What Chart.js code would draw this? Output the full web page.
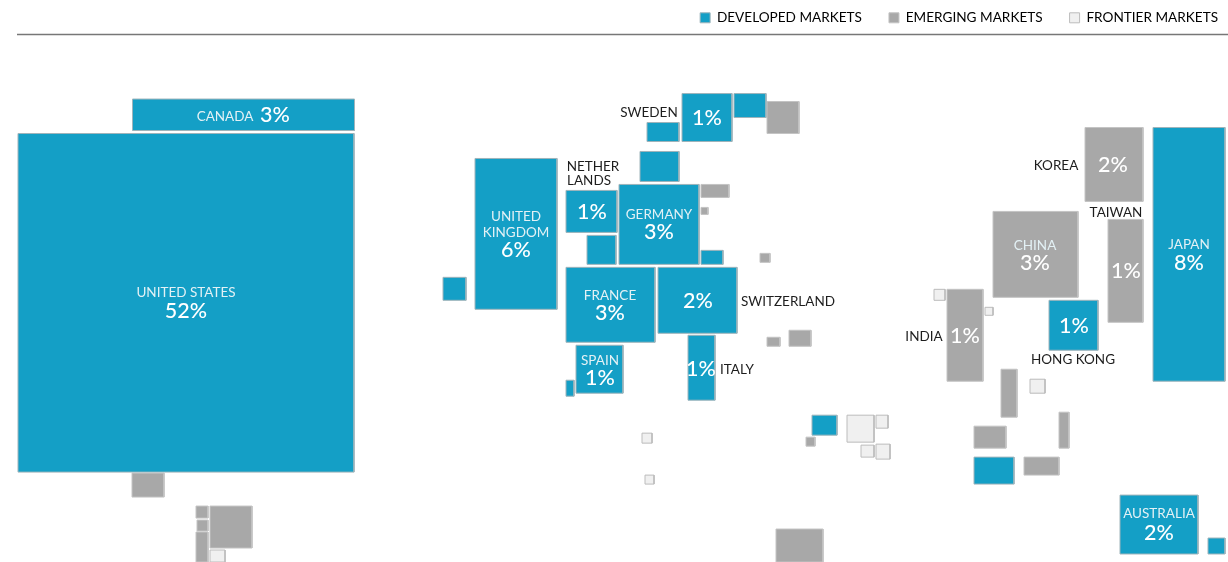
<!DOCTYPE html>
<html>
<head>
<meta charset="utf-8">
<title>Market cap map</title>
<script src="https://cdn.jsdelivr.net/npm/chart.js@4/dist/chart.umd.min.js"></script>
<style>
  html, body { margin: 0; padding: 0; background: #fff; }
  canvas { display: block; }
</style>
</head>
<body>
<canvas id="mapChart" width="1228" height="562"></canvas>
<script>
// market groups
const marketNames = ["DEVELOPED MARKETS", "EMERGING MARKETS", "FRONTIER MARKETS"];
const marketFill = ["#149fc6", "#a8a8a8", "#f0f0f0"];
const marketBorder = ["#9fb4bb", "#c4c4c4", "#bcbcbc"];

// boxes on the map: 0 developed, 1 emerging, 2 frontier
const boxMarket = [
  0, 0, 0, 0, 0, 1, 0, 0, 0, 0, 1, 1, 0, 0, 1, 0, 0, 0, 0, 0, 0,
  1, 1, 2, 2, 0, 1, 2, 2, 2, 2, 1,
  1, 1, 1, 1, 1, 2,
  1, 0, 1, 1, 2, 1, 2, 0, 1, 2, 1, 1, 0, 1, 0, 0
];
const boxLeft = [
  18, 132.5, 682, 734, 647, 767, 640, 475, 566, 619, 701, 701, 587, 701, 760, 443, 566, 658, 576, 566, 688,
  767, 789, 642, 645, 812, 806, 847, 876, 861, 876, 776,
  132, 196, 197, 196, 210, 210,
  1085, 1153, 993, 1108, 934, 947, 985, 1049, 1001, 1030, 1059, 974, 974, 1024, 1120, 1208
];
const boxTop = [
  133, 98.5, 93, 93, 122, 101, 151, 158, 190, 184, 184, 207, 235, 250, 253, 277, 267, 267, 345, 380, 335,
  337, 330, 433, 475, 415, 437, 415, 415, 445, 444, 529,
  473, 506, 520, 532, 506, 550,
  127, 127, 211, 219, 289, 289, 307, 300, 369, 379, 412, 426, 457, 457, 495, 538
];
const boxRight = [
  354, 354.5, 732, 766, 679, 799, 679, 557, 617, 699, 729, 708, 616, 723, 770, 466, 655, 737, 623, 574, 715,
  780, 811, 652, 654, 837, 815, 874, 888, 874, 890, 823,
  164, 208, 208, 208, 252, 225,
  1143, 1225, 1078, 1143, 945, 983, 993, 1098, 1017, 1045, 1069, 1006, 1014, 1059, 1198, 1225
];
const boxBottom = [
  472, 130, 141, 117, 141, 133, 181, 309, 232, 264, 197, 214, 264, 264, 262, 300, 342, 333, 393, 396, 400,
  346, 346, 443, 484, 435, 446, 442, 428, 457, 459, 562,
  497, 518, 531, 562, 548, 562,
  201, 381, 297, 322, 300, 381, 315, 350, 417, 393, 448, 448, 484, 475, 554, 554
];

// texts: kind 0 country on a box, 1 percent on a box, 2 country beside a box
const labelText = [
  "CANADA", "3%", "UNITED STATES", "52%", "SWEDEN", "1%", "NETHER", "LANDS", "1%", "GERMANY", "3%",
  "UNITED", "KINGDOM", "6%", "FRANCE", "3%", "2%", "SWITZERLAND", "SPAIN", "1%", "1%", "ITALY",
  "KOREA", "2%", "TAIWAN", "1%", "CHINA", "3%", "JAPAN", "8%", "INDIA", "1%", "1%", "HONG KONG", "AUSTRALIA", "2%"
];
const labelKind = [
  0, 1, 0, 1, 2, 1, 2, 2, 1, 0, 1,
  0, 0, 1, 0, 1, 1, 2, 0, 1, 1, 2,
  2, 1, 2, 1, 0, 1, 0, 1, 2, 1, 1, 2, 0, 1
];
const labelX = [
  225, 275, 186, 186, 649, 707, 593, 589, 592, 659, 659,
  516, 516, 516, 610, 610, 698, 788, 600, 600, 701, 737,
  1056, 1113, 1116, 1126, 1035, 1035, 1189, 1189, 924, 965, 1074, 1073, 1159, 1159
];
const labelY = [
  116, 115, 292, 311, 112, 118, 166, 180, 212, 214, 232,
  216, 232, 250, 295, 313, 301, 301, 360, 378, 369, 369,
  165, 165, 212, 271, 245, 263, 244, 263, 336, 336, 326, 359, 514, 533
];

const FONT = "Lato, 'Open Sans', sans-serif";
const LEGEND_GAP = 27;
const CHART_TOP = 50; // legend height

const datasets = boxLeft.map((left, i) => ({
  market: boxMarket[i],
  data: [
    { x: left, y: boxTop[i] },
    { x: boxRight[i], y: boxTop[i] },
    { x: boxRight[i], y: boxBottom[i] },
    { x: left, y: boxBottom[i] },
    { x: left, y: boxTop[i] }
  ],
  showLine: true,
  fill: "shape",
  tension: 0,
  pointRadius: 0,
  borderWidth: 1,
  borderColor: marketBorder[boxMarket[i]],
  backgroundColor: marketFill[boxMarket[i]],
  clip: false
}));

// moves the legend to the top right corner and draws the rule under it
const headerPlugin = {
  id: "header",
  beforeDraw(chart) {
    chart.legend.top = -16;
    chart.legend.right = chart.width + 17;
  },
  afterDraw(chart) {
    const { ctx, scales } = chart;
    ctx.save();
    ctx.strokeStyle = "#777";
    ctx.lineWidth = 1.5;
    ctx.beginPath();
    ctx.moveTo(scales.x.getPixelForValue(17), scales.y.getPixelForValue(34));
    ctx.lineTo(scales.x.getPixelForValue(1228), scales.y.getPixelForValue(34));
    ctx.stroke();
    ctx.restore();
  }
};

const labelPlugin = {
  id: "boxLabels",
  afterDatasetsDraw(chart) {
    const { ctx, scales } = chart;
    ctx.save();
    ctx.textAlign = "center";
    ctx.textBaseline = "middle";
    labelText.forEach((text, i) => {
      const kind = labelKind[i];
      ctx.font = kind === 1 ? `500 21.5px ${FONT}` : `400 13.5px ${FONT}`;
      ctx.fillStyle = kind === 1 ? "#fff" : kind === 0 ? "#e3f1f5" : "#1d1d1d";
      ctx.fillText(text, scales.x.getPixelForValue(labelX[i]), scales.y.getPixelForValue(labelY[i]));
    });
    ctx.restore();
  }
};

new Chart(document.getElementById("mapChart"), {
  type: "scatter",
  data: { datasets },
  plugins: [headerPlugin, labelPlugin],
  options: {
    responsive: false,
    animation: false,
    layout: { padding: 0 },
    scales: {
      x: { type: "linear", min: 0, max: 1228, display: false },
      y: { type: "linear", min: CHART_TOP, max: 562, reverse: true, display: false }
    },
    plugins: {
      tooltip: { enabled: false },
      legend: {
        position: "top",
        align: "end",
        labels: {
          boxWidth: 10,
          boxHeight: 10,
          padding: LEGEND_GAP,
          color: "#333",
          font: { family: FONT, size: 13.6 },
          generateLabels: () => marketNames.map((name, i) => ({
            text: name,
            fillStyle: marketFill[i],
            strokeStyle: marketBorder[i],
            lineWidth: 1,
            datasetIndex: i
          }))
        }
      }
    }
  }
});
</script>
</body>
</html>
